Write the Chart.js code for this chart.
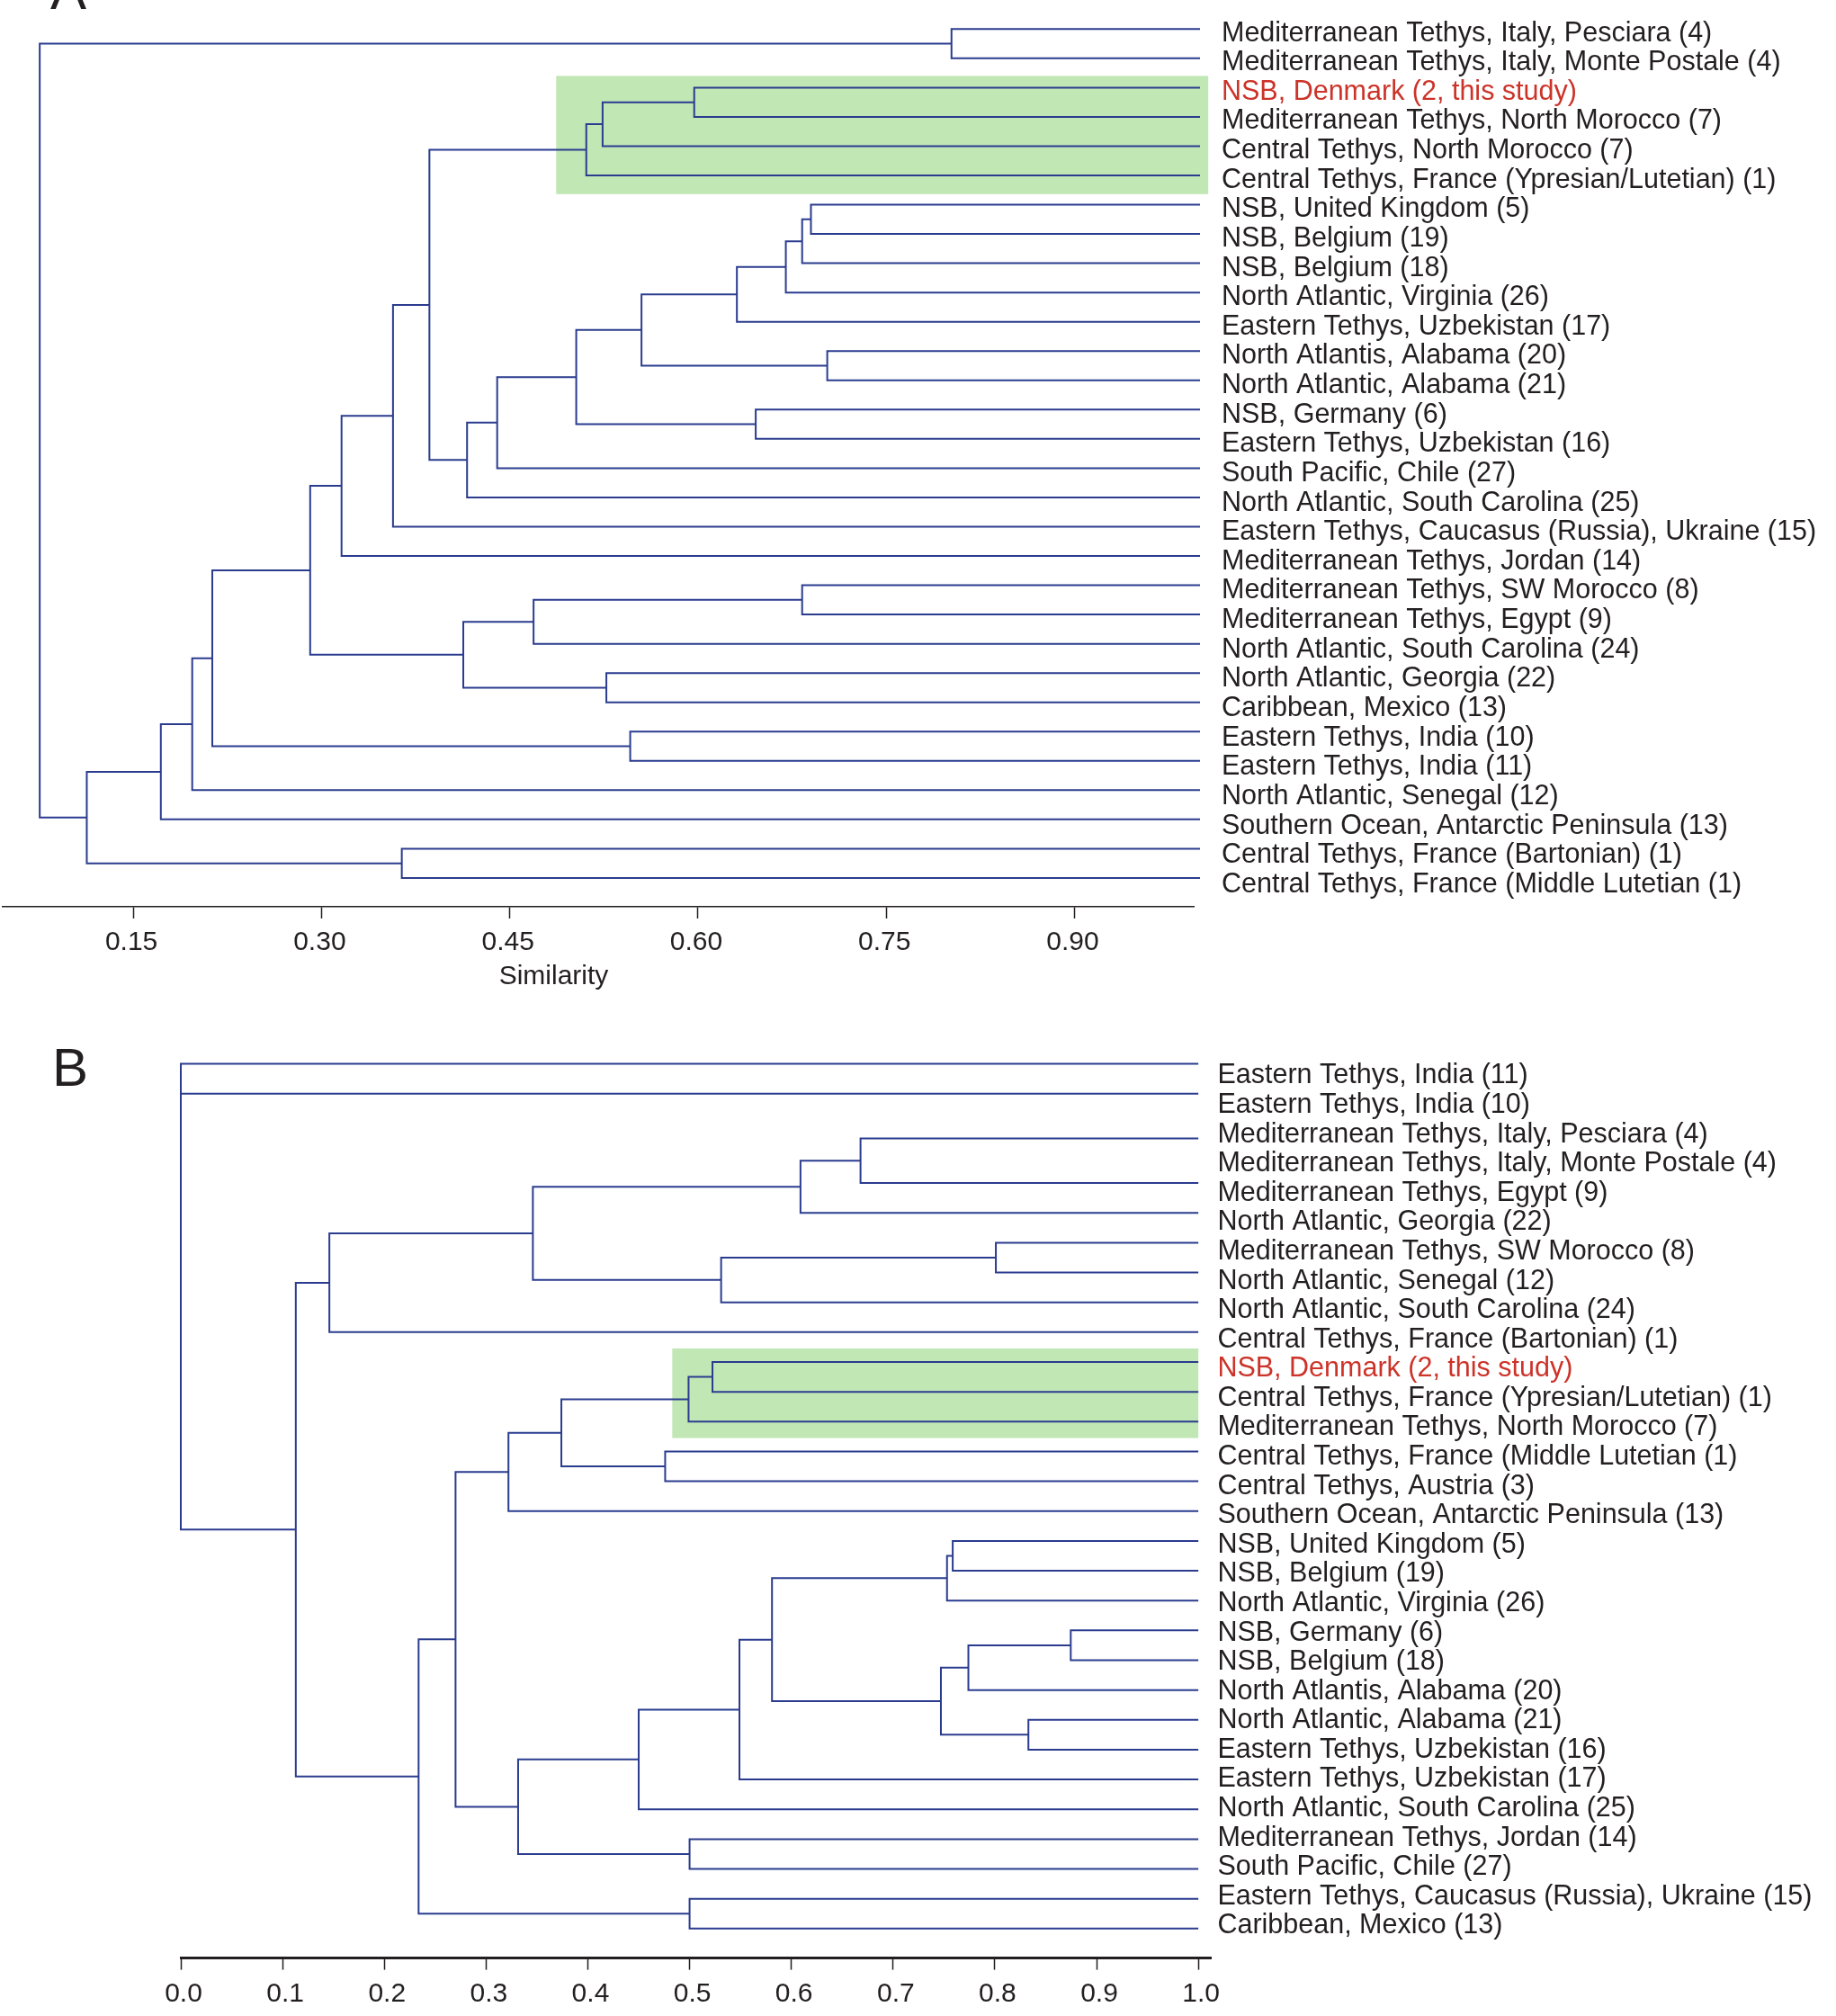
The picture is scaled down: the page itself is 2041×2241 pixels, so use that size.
<!DOCTYPE html>
<html><head><meta charset="utf-8">
<script src="https://cdn.jsdelivr.net/npm/chart.js@4.4.1/dist/chart.umd.min.js"></script>
<style>
html,body{margin:0;padding:0;background:#fff;overflow:hidden;width:2041px;height:2241px;}
canvas{position:absolute;left:0;}
#cA{top:0;}
#cB{top:1100px;}
</style></head><body>
<canvas id="cA" width="2041" height="1120"></canvas>
<canvas id="cB" width="2041" height="1200"></canvas>
<script>
// ---------- Panel A data ----------
const leavesA = [
  'Mediterranean Tethys, Italy, Pesciara (4)',
  'Mediterranean Tethys, Italy, Monte Postale (4)',
  'NSB, Denmark (2, this study)',
  'Mediterranean Tethys, North Morocco (7)',
  'Central Tethys, North Morocco (7)',
  'Central Tethys, France (Ypresian/Lutetian) (1)',
  'NSB, United Kingdom (5)',
  'NSB, Belgium (19)',
  'NSB, Belgium (18)',
  'North Atlantic, Virginia (26)',
  'Eastern Tethys, Uzbekistan (17)',
  'North Atlantis, Alabama (20)',
  'North Atlantic, Alabama (21)',
  'NSB, Germany (6)',
  'Eastern Tethys, Uzbekistan (16)',
  'South Pacific, Chile (27)',
  'North Atlantic, South Carolina (25)',
  'Eastern Tethys, Caucasus (Russia), Ukraine (15)',
  'Mediterranean Tethys, Jordan (14)',
  'Mediterranean Tethys, SW Morocco (8)',
  'Mediterranean Tethys, Egypt (9)',
  'North Atlantic, South Carolina (24)',
  'North Atlantic, Georgia (22)',
  'Caribbean, Mexico (13)',
  'Eastern Tethys, India (10)',
  'Eastern Tethys, India (11)',
  'North Atlantic, Senegal (12)',
  'Southern Ocean, Antarctic Peninsula (13)',
  'Central Tethys, France (Bartonian) (1)',
  'Central Tethys, France (Middle Lutetian (1)'
];
// linkage rows: [node a, node b, similarity]; leaves are 0..n-1, merges get ids n, n+1, ...
const linkageA = [
  [0, 1, 0.802],    // 30
  [2, 3, 0.597],    // 31
  [31, 4, 0.524],   // 32
  [32, 5, 0.511],   // 33
  [6, 7, 0.690],    // 34
  [34, 8, 0.683],   // 35
  [35, 9, 0.670],   // 36
  [36, 10, 0.631],  // 37
  [11, 12, 0.703],  // 38
  [37, 38, 0.555],  // 39
  [13, 14, 0.646],  // 40
  [39, 40, 0.503],  // 41
  [41, 15, 0.440],  // 42
  [42, 16, 0.416],  // 43
  [33, 43, 0.386],  // 44
  [44, 17, 0.357],  // 45
  [45, 18, 0.316],  // 46
  [19, 20, 0.683],  // 47
  [47, 21, 0.469],  // 48
  [22, 23, 0.527],  // 49
  [48, 49, 0.413],  // 50
  [46, 50, 0.291],  // 51
  [24, 25, 0.546],  // 52
  [51, 52, 0.213],  // 53
  [53, 26, 0.197],  // 54
  [54, 27, 0.172],  // 55
  [28, 29, 0.364],  // 56
  [55, 56, 0.113],  // 57
  [30, 57, 0.0755]  // 58
];
const tickValuesA = [0.15, 0.30, 0.45, 0.60, 0.75, 0.90];
const tickLabelsA = ['0.15', '0.30', '0.45', '0.60', '0.75', '0.90'];
const boxLeavesA = [2, 5];
const boxFromA = 0.487;

// ---------- Panel B data ----------
const leavesB = [
  'Eastern Tethys, India (11)',
  'Eastern Tethys, India (10)',
  'Mediterranean Tethys, Italy, Pesciara (4)',
  'Mediterranean Tethys, Italy, Monte Postale (4)',
  'Mediterranean Tethys, Egypt (9)',
  'North Atlantic, Georgia (22)',
  'Mediterranean Tethys, SW Morocco (8)',
  'North Atlantic, Senegal (12)',
  'North Atlantic, South Carolina (24)',
  'Central Tethys, France (Bartonian) (1)',
  'NSB, Denmark (2, this study)',
  'Central Tethys, France (Ypresian/Lutetian) (1)',
  'Mediterranean Tethys, North Morocco (7)',
  'Central Tethys, France (Middle Lutetian (1)',
  'Central Tethys, Austria (3)',
  'Southern Ocean, Antarctic Peninsula (13)',
  'NSB, United Kingdom (5)',
  'NSB, Belgium (19)',
  'North Atlantic, Virginia (26)',
  'NSB, Germany (6)',
  'NSB, Belgium (18)',
  'North Atlantis, Alabama (20)',
  'North Atlantic, Alabama (21)',
  'Eastern Tethys, Uzbekistan (16)',
  'Eastern Tethys, Uzbekistan (17)',
  'North Atlantic, South Carolina (25)',
  'Mediterranean Tethys, Jordan (14)',
  'South Pacific, Chile (27)',
  'Eastern Tethys, Caucasus (Russia), Ukraine (15)',
  'Caribbean, Mexico (13)'
];
const linkageB = [
  [0, 1, 0.0],       // 30
  [2, 3, 1.0],       // 31  (identical samples)
  [31, 4, 0.668],    // 32
  [32, 5, 0.609],    // 33
  [6, 7, 0.801],     // 34
  [34, 8, 0.531],    // 35
  [33, 35, 0.346],   // 36
  [36, 9, 0.146],    // 37
  [10, 11, 0.5225],  // 38
  [38, 12, 0.499],   // 39
  [13, 14, 0.476],   // 40
  [39, 40, 0.374],   // 41
  [41, 15, 0.322],   // 42
  [16, 17, 0.7586],  // 43
  [43, 18, 0.753],   // 44
  [19, 20, 0.8746],  // 45
  [45, 21, 0.774],   // 46
  [22, 23, 0.833],   // 47
  [46, 47, 0.747],   // 48
  [44, 48, 0.581],   // 49
  [49, 24, 0.549],   // 50
  [50, 25, 0.450],   // 51
  [26, 27, 0.500],   // 52
  [51, 52, 0.3315],  // 53
  [42, 53, 0.270],   // 54
  [28, 29, 0.500],   // 55
  [54, 55, 0.2337],  // 56
  [37, 56, 0.113],   // 57
  [30, 57, 0.0]      // 58
];
const tickValuesB = [0.0, 0.1, 0.2, 0.3, 0.4, 0.5, 0.6, 0.7, 0.8, 0.9, 1.0];
const tickLabelsB = ['0.0', '0.1', '0.2', '0.3', '0.4', '0.5', '0.6', '0.7', '0.8', '0.9', '1.0'];
const boxLeavesB = [10, 12];
const boxFromB = 0.483;

const highlightLabel = 'NSB, Denmark (2, this study)';
const axisTitle = 'Similarity';

// ---------- styles ----------
const FONT = '"Liberation Sans", Arial, Helvetica, sans-serif';
const LINE = '#2b3c8f';
const TEXT = '#231f20';
const RED = '#cc3329';
const GREEN = '#c1e7b5';

Chart.defaults.font.family = FONT;
Chart.defaults.color = TEXT;

function dendroDatasets(leaves, linkage) {
  const nodes = leaves.map((_, i) => ({x: 1.0, y: i}));
  const sets = [];
  linkage.forEach(([a, b, h]) => {
    const na = nodes[a], nb = nodes[b];
    nodes.push({x: h, y: (na.y + nb.y) / 2});
    if (h >= 1.0) return; // identical samples: drawn as one stub by the parent link
    sets.push({
      data: [{x: na.x, y: na.y}, {x: h, y: na.y}, {x: h, y: nb.y}, {x: nb.x, y: nb.y}],
      showLine: true, borderColor: LINE, borderWidth: 2, pointRadius: 0,
      pointHoverRadius: 0, fill: false, tension: 0, clip: false,
      borderCapStyle: 'butt', borderJoinStyle: 'miter'
    });
  });
  return sets;
}

function makeChart(id, cfg) {
  const boxPlugin = {
    id: 'box' + id,
    beforeDatasetsDraw(chart) {
      const xs = chart.scales.x, ys = chart.scales.y, c = chart.ctx;
      const x0 = xs.getPixelForValue(cfg.boxFrom), x1 = xs.getPixelForValue(cfg.boxTo);
      const y0 = ys.getPixelForValue(cfg.boxLeaves[0] - cfg.boxPadTop);
      const y1 = ys.getPixelForValue(cfg.boxLeaves[1] + cfg.boxPadBottom);
      c.save(); c.fillStyle = GREEN; c.fillRect(x0, y0, x1 - x0, y1 - y0); c.restore();
    },
    afterDraw(chart) {
      const xs = chart.scales.x, c = chart.ctx;
      c.save();
      c.fillStyle = TEXT;
      c.font = '30px ' + FONT;
      c.textAlign = 'center'; c.textBaseline = 'alphabetic';
      c.fillText(axisTitle, xs.getPixelForValue(cfg.titleAt), chart.chartArea.bottom + 86);
      c.font = '60px ' + FONT;
      c.textAlign = 'left';
      c.fillText(cfg.letter, cfg.letterX, cfg.letterY);
      c.restore();
    }
  };
  return new Chart(document.getElementById(id), {
    type: 'scatter',
    data: {datasets: dendroDatasets(cfg.leaves, cfg.linkage)},
    options: {
      responsive: false, animation: false, devicePixelRatio: 1,
      layout: {padding: {left: cfg.padLeft, top: 0, right: 0, bottom: 0}, autoPadding: false},
      plugins: {legend: {display: false}, tooltip: {enabled: false}},
      events: [],
      scales: {
        x: {
          type: 'linear', position: 'bottom', min: cfg.xMin, max: cfg.xMax,
          afterBuildTicks: s => { s.ticks = cfg.tickValues.map(v => ({value: v})); },
          afterFit: s => { s.height = cfg.xAxisHeight; s.paddingLeft = 0; s.paddingRight = 0; },
          ticks: {
            callback: (v, i) => cfg.tickLabels[i], autoSkip: false, maxRotation: 0,
            font: {size: 30}, color: TEXT, padding: 9, labelOffset: cfg.xLabelOffset
          },
          grid: {display: true, drawOnChartArea: false, drawTicks: true, tickLength: 13,
                 tickColor: TEXT, tickWidth: 1.5},
          border: {display: true, color: TEXT, width: cfg.axisWidth}
        },
        y: {
          type: 'linear', position: 'right', reverse: true, min: cfg.yMin, max: cfg.yMax,
          // leaf labels: slightly different spacing/offset than the leaf lines, as in the figure
          afterBuildTicks: s => {
            s.ticks = cfg.leaves.map((_, i) => ({value: cfg.labelShift + cfg.labelStep * i}));
          },
          afterFit: s => { s.width = cfg.yAxisWidth; s.paddingTop = 0; s.paddingBottom = 0; },
          ticks: {
            callback: (v, i) => cfg.leaves[i], autoSkip: false,
            font: {size: 30.5}, padding: cfg.labelPad,
            color: ctx => (cfg.leaves[ctx.index] === highlightLabel ? RED : TEXT)
          },
          grid: {display: false, drawTicks: false, tickLength: 0},
          border: {display: false}
        }
      }
    },
    plugins: [boxPlugin]
  });
}

makeChart('cA', {
  leaves: leavesA, linkage: linkageA, tickValues: tickValuesA, tickLabels: tickLabelsA,
  xMin: 0.046, xMax: 0.995, yMin: -0.9926, yMax: 29.985,
  padLeft: 3, xAxisHeight: 112, yAxisWidth: 714, labelPad: 31, axisWidth: 1.5, xLabelOffset: -2,
  labelShift: 0.148, labelStep: 1.00277,
  boxLeaves: boxLeavesA, boxFrom: boxFromA, boxTo: 1.0066, boxPadTop: 0.4, boxPadBottom: 0.64,
  titleAt: 0.485, letter: 'A', letterX: 56, letterY: 10
});

makeChart('cB', {
  leaves: leavesB, linkage: linkageB, tickValues: tickValuesB, tickLabels: tickLabelsB,
  xMin: 0.0, xMax: 1.0126, yMin: -2.4887, yMax: 29.988,
  padLeft: 201, xAxisHeight: 123.4, yAxisWidth: 694.6, labelPad: 7, axisWidth: 3, xLabelOffset: 3,
  labelShift: 0.41, labelStep: 0.98281,
  boxLeaves: boxLeavesB, boxFrom: boxFromB, boxTo: 1.0, boxPadTop: 0.455, boxPadBottom: 0.55,
  titleAt: 0.497, letter: 'B', letterX: 58, letterY: 107
});
</script>
</body></html>
